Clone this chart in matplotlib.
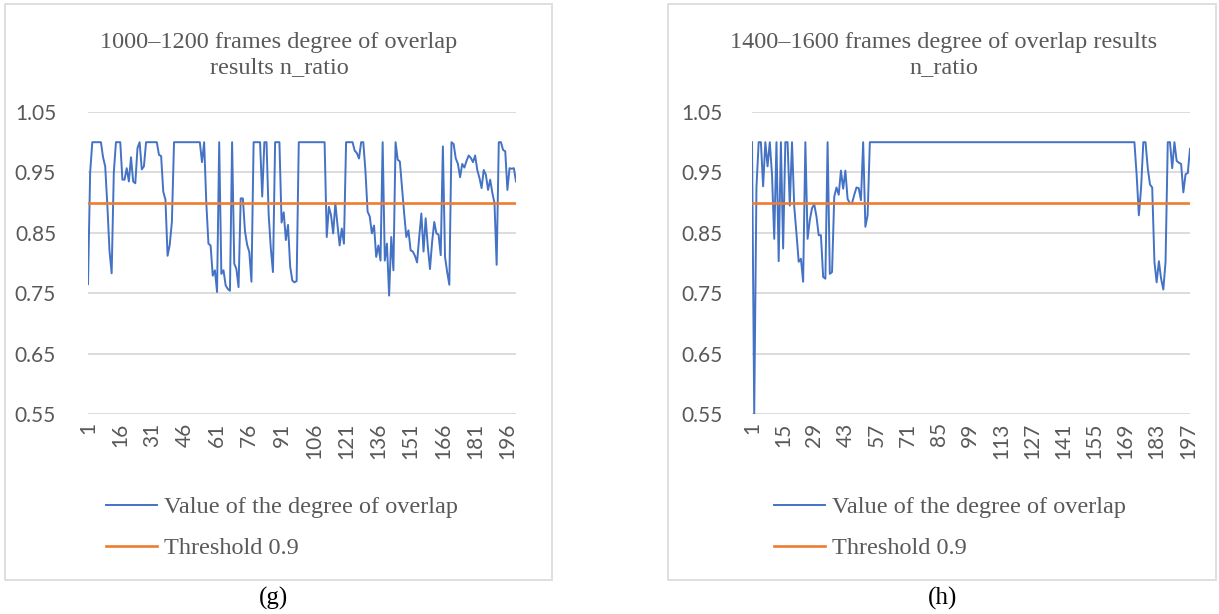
import matplotlib
matplotlib.use("Agg")
import matplotlib.pyplot as plt
from matplotlib.patches import Rectangle

# ---------------- data ----------------
overlap_g = [
    0.765, 0.95, 1.0, 1.0, 1.0, 1.0, 1.0, 0.975, 0.96, 0.895,
    0.82, 0.783, 0.95, 1.0, 1.0, 1.0, 0.938, 0.938, 0.957, 0.935,
    0.975, 0.935, 0.932, 0.99, 1.0, 0.955, 0.96, 1.0, 1.0, 1.0,
    1.0, 1.0, 1.0, 0.979, 0.977, 0.918, 0.905, 0.812, 0.83, 0.868,
    1.0, 1.0, 1.0, 1.0, 1.0, 1.0, 1.0, 1.0, 1.0, 1.0,
    1.0, 1.0, 1.0, 0.967, 1.0, 0.9, 0.832, 0.829, 0.779, 0.788,
    0.752, 1.0, 0.782, 0.788, 0.763, 0.757, 0.754, 1.0, 0.799, 0.79,
    0.76, 0.907, 0.907, 0.852, 0.83, 0.818, 0.769, 1.0, 1.0, 1.0,
    1.0, 0.91, 1.0, 1.0, 0.88, 0.824, 0.785, 1.0, 1.0, 1.0,
    0.867, 0.884, 0.838, 0.863, 0.794, 0.771, 0.768, 0.77, 1.0, 1.0,
    1.0, 1.0, 1.0, 1.0, 1.0, 1.0, 1.0, 1.0, 1.0, 1.0,
    1.0, 0.843, 0.893, 0.879, 0.849, 0.899, 0.863, 0.829, 0.857, 0.832,
    1.0, 1.0, 1.0, 1.0, 0.986, 0.982, 0.973, 1.0, 1.0, 0.952,
    0.885, 0.877, 0.849, 0.862, 0.81, 0.829, 0.804, 1.0, 0.804, 0.832,
    0.746, 0.843, 0.788, 1.0, 0.971, 0.968, 0.924, 0.882, 0.843, 0.854,
    0.821, 0.819, 0.812, 0.801, 0.843, 0.882, 0.819, 0.874, 0.827, 0.79,
    0.835, 0.868, 0.849, 0.847, 0.813, 0.993, 0.81, 0.785, 0.764, 1.0,
    0.997, 0.973, 0.964, 0.942, 0.964, 0.958, 0.969, 0.978, 0.974, 0.967,
    0.978, 0.954, 0.941, 0.924, 0.954, 0.946, 0.921, 0.938, 0.916, 0.899,
    0.797, 1.0, 1.0, 0.987, 0.985, 0.921, 0.957, 0.956, 0.957, 0.935,
]

overlap_h_start = [
    1.0, 0.55, 0.925, 1.0, 1.0, 0.927, 1.0, 0.96, 1.0, 0.946,
    0.84, 1.0, 0.803, 1.0, 0.824, 1.0, 1.0, 0.895, 1.0, 0.893,
    0.849, 0.802, 0.807, 0.769, 1.0, 0.84, 0.871, 0.891, 0.897, 0.877,
    0.846, 0.846, 0.777, 0.774, 1.0, 0.782, 0.785, 0.91, 0.925, 0.913,
    0.953, 0.923, 0.953, 0.906, 0.899, 0.899, 0.913, 0.925, 0.924, 0.904,
    1.0, 0.86, 0.879,
]
overlap_h_flat = [1.0] * 120   # points 54..173
overlap_h_end = [
    0.946, 0.879, 0.924, 1.0, 1.0, 0.957, 0.93, 0.925, 0.802, 0.768,
    0.803, 0.774, 0.756, 0.802, 1.0, 1.0, 0.957, 1.0, 0.969, 0.966,
    0.964, 0.917, 0.947, 0.949, 0.989,
]
overlap_h = overlap_h_start + overlap_h_flat + overlap_h_end

threshold = 0.9

titles = ["1000\u20131200 frames degree of overlap\nresults n_ratio",
          "1400\u20131600 frames degree of overlap results\nn_ratio"]
captions = ["(g)", "(h)"]
legend_labels = ["Value of the degree of overlap", "Threshold 0.9"]
y_ticks = [0.55, 0.65, 0.75, 0.85, 0.95, 1.05]
x_step = [15, 14]

# ---------------- style ----------------
W, H = 1219, 614
BLUE = "#4472C4"
ORANGE = "#ED7D31"
GRID = "#D9D9D9"
TXT = "#595959"
SERIF = ["Liberation Serif", "DejaVu Serif"]
SANS = ["Lato", "DejaVu Sans"]

fig = plt.figure(figsize=(W / 100, H / 100), dpi=100)


def px_axes(x0, y0, x1, y1):
    return fig.add_axes([x0 / W, 1 - y1 / H, (x1 - x0) / W, (y1 - y0) / H])


def fx(x):
    return x / W


def fy(y):
    return 1 - y / H


panels = [
    dict(data=overlap_g, box=(5, 4, 552, 580), ax=(88, 112, 516, 414),
         title_xy=(279, 55), leg=(106, 496), cap=(273, 598), ypad=23),
    dict(data=overlap_h, box=(668, 4, 1216, 580), ax=(752, 112, 1190, 414),
         title_xy=(944, 55), leg=(774, 496), cap=(943, 598), ypad=21),
]

for k, p in enumerate(panels):
    bx0, by0, bx1, by1 = p["box"]
    fig.add_artist(Rectangle((fx(bx0), fy(by1)), fx(bx1 - bx0), (by1 - by0) / H,
                             transform=fig.transFigure, fill=False,
                             edgecolor=GRID, linewidth=1.2))
    ax = px_axes(*p["ax"])
    vals = p["data"]
    n = len(vals)
    xs = list(range(1, n + 1))
    l1, = ax.plot(xs, vals, color=BLUE, linewidth=1.4, zorder=3)
    l2, = ax.plot(xs, [threshold] * n, color=ORANGE, linewidth=1.9, zorder=4)
    ax.set_xlim(1, n)
    ax.set_ylim(0.55, 1.05)
    ax.set_yticks(y_ticks)
    ax.set_yticklabels([f"{v:.2f}" for v in y_ticks])
    xt = list(range(1, n + 1, x_step[k]))
    ax.set_xticks(xt)
    ax.set_xticklabels([str(v) for v in xt], rotation=90)
    for s in ax.spines.values():
        s.set_visible(False)
    ax.grid(axis="y", color=GRID, linewidth=1.3, zorder=0)
    ax.tick_params(axis="both", length=0, labelcolor=TXT, labelsize=15)
    ax.tick_params(axis="y", pad=p["ypad"])
    ax.tick_params(axis="x", pad=6)
    for lab in ax.get_xticklabels() + ax.get_yticklabels():
        lab.set_fontfamily(SANS)
    tx, ty = p["title_xy"]
    fig.text(fx(tx), fy(ty), titles[k], ha="center", va="center",
             color=TXT, fontsize=17.5, family=SERIF, linespacing=1.25)
    lx, ly = p["leg"]
    ax.legend([l1, l2], legend_labels, loc="upper left",
              bbox_to_anchor=(fx(lx), fy(ly)), bbox_transform=fig.transFigure,
              frameon=False, prop=dict(family=SERIF, size=17.5),
              labelcolor=TXT, handlelength=2.1, handletextpad=0.3,
              labelspacing=0.8, borderpad=0, borderaxespad=0)
    cx, cy = p["cap"]
    fig.text(fx(cx), fy(cy), captions[k], ha="center", va="center",
             color="black", fontsize=18, family=SERIF)

fig.savefig("out.png", dpi=100)
